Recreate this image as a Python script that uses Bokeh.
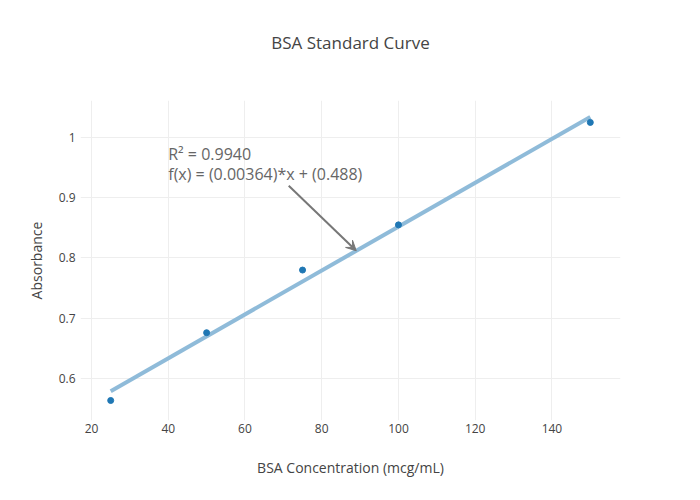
from bokeh.plotting import figure
from bokeh.models import Range1d, FixedTicker, Label, Arrow, VeeHead, Title
from bokeh.embed import file_html
from bokeh.resources import INLINE

# Data
conc = [25, 50, 75, 100, 150]
absorb = [0.5635, 0.676, 0.780, 0.855, 1.025]
slope = 0.00364
intercept = 0.488
title_text = "BSA Standard Curve"
r2_text = "R² = 0.9940"
fit_text = "f(x) = (0.00364)*x + (0.488)"
x_ticks = [20, 40, 60, 80, 100, 120, 140]
y_ticks = [0.6, 0.7, 0.8, 0.9, 1.0]

fit_x = [conc[0], conc[-1]]
fit_y = [slope * v + intercept for v in fit_x]

FONT = "Open Sans"

p = figure(width=700, height=500, output_backend="svg", toolbar_location=None,
           x_range=Range1d(17.13, 157.87), y_range=Range1d(0.5303, 1.0614),
           min_border_left=80, min_border_right=80, min_border_top=100, min_border_bottom=80,
           frame_width=540, frame_height=320)
p.outline_line_color = None
p.background_fill_color = "white"
p.border_fill_color = "white"

# trailing blank line lifts the title away from the plot area
p.title = Title(text=title_text + "\n ", align="center", text_font=FONT,
                text_font_size="17px", text_color="#444444", text_font_style="normal",
                standoff=47)

p.xgrid.grid_line_color = "#eeeeee"
p.ygrid.grid_line_color = "#eeeeee"
p.xgrid.ticker = FixedTicker(ticks=x_ticks)
p.ygrid.ticker = FixedTicker(ticks=y_ticks)

for ax in (p.xaxis[0], p.yaxis[0]):
    ax.axis_line_color = None
    ax.major_tick_line_color = None
    ax.minor_tick_line_color = None
    ax.major_tick_out = 0
    ax.major_tick_in = 0
    ax.major_label_text_font = FONT
    ax.major_label_text_font_size = "12px"
    ax.major_label_text_color = "#444444"
    ax.axis_label_text_font = FONT
    ax.axis_label_text_font_size = "14px"
    ax.axis_label_text_color = "#444444"
    ax.axis_label_text_font_style = "normal"

p.xaxis.ticker = FixedTicker(ticks=x_ticks)
p.yaxis.ticker = FixedTicker(ticks=y_ticks)
p.yaxis.major_label_overrides = {1.0: "1", 1: "1"}
p.xaxis.axis_label = "BSA Concentration (mcg/mL)"
p.yaxis.axis_label = "Absorbance"
p.xaxis.major_label_standoff = 3
p.xaxis.axis_label_standoff = 22
p.yaxis.major_label_standoff = 5
p.yaxis.axis_label_standoff = 10

p.line(fit_x, fit_y, line_color="#8fbbd9", line_width=4)
p.scatter(conc, absorb, size=6, fill_color="#1f77b4", line_color="#1f77b4")

arrow_head_x = 89
arrow_head_y = slope * arrow_head_x + intercept
p.add_layout(Arrow(x_start=71.4, y_start=0.920, x_end=arrow_head_x, y_end=arrow_head_y,
                   line_color="#777777", line_width=2,
                   end=VeeHead(size=10, line_color="#777777", fill_color="#777777", line_width=1)))

p.add_layout(Label(x=40, y=0.9734, text=r2_text, text_font=FONT, text_font_size="16px",
                   text_color="#666666", text_baseline="middle", text_align="left"))
p.add_layout(Label(x=40, y=0.9386, text=fit_text, text_font=FONT, text_font_size="16px",
                   text_color="#666666", text_baseline="middle", text_align="left"))

open("out.html", "w").write(file_html(p, INLINE))
